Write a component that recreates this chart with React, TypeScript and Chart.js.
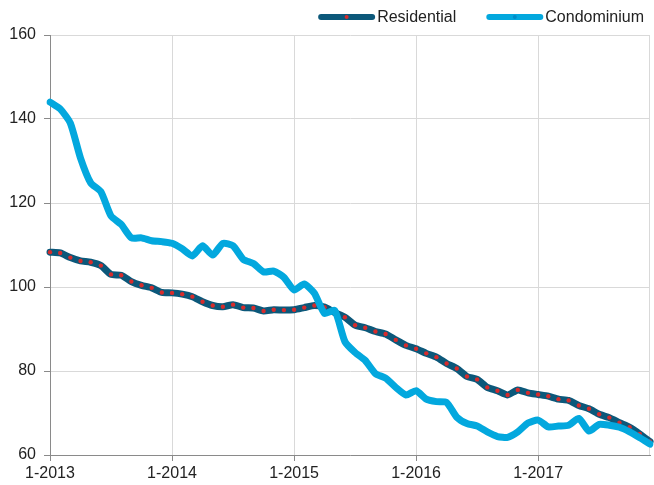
import React, { useEffect, useRef } from 'react';
import { Chart, registerables } from 'chart.js';

Chart.register(...registerables);

const YEARS = [2013, 2014, 2015, 2016, 2017];
const MONTHS = [1, 2, 3, 4, 5, 6, 7, 8, 9, 10, 11, 12];
const CATEGORIES = YEARS.flatMap((y) => MONTHS.map((m) => `${m}-${y}`));
const TICK_LABELS = ['1-2013', '1-2014', '1-2015', '1-2016', '1-2017'];
const SERIES_NAMES = ['Residential', 'Condominium'];

const RESIDENTIAL = [
  108.3, 108.1, 107.0, 106.2, 105.9, 105.1, 103.0, 102.8, 101.3, 100.4, 99.8, 98.7,
  98.6, 98.3, 97.7, 96.5, 95.6, 95.3, 95.8, 95.1, 95.0, 94.3, 94.6, 94.5,
  94.6, 95.1, 95.6, 95.2, 93.9, 92.8, 90.9, 90.3, 89.4, 88.8, 87.4, 86.1,
  85.3, 84.2, 83.3, 81.8, 80.6, 78.7, 78.0, 76.1, 75.3, 74.3, 75.5, 74.8,
  74.4, 74.0, 73.3, 73.0, 71.8, 71.0, 69.7, 68.9, 67.7, 66.6, 65.0, 63.2,
];

const CONDOMINIUM = [
  144.0, 142.4, 139.0, 130.7, 124.8, 122.7, 116.9, 114.9, 111.7, 111.7, 111.0, 110.8,
  110.4, 109.1, 107.4, 109.8, 107.6, 110.4, 109.8, 106.6, 105.6, 103.6, 103.8, 102.3,
  99.3, 100.7, 98.5, 93.7, 94.4, 87.0, 84.4, 82.5, 79.4, 78.3, 76.1, 74.3,
  75.3, 73.3, 72.7, 72.5, 69.0, 67.5, 66.9, 65.5, 64.4, 64.2, 65.5, 67.6,
  68.3, 66.7, 66.9, 67.1, 68.7, 65.7, 67.3, 67.1, 66.6, 65.5, 64.1, 62.6,
];

const Y_MIN = 60;
const Y_MAX = 160;
const Y_STEP = 20;

const RES_COLOR = 'rgb(12,88,122)';
const RES_DOT = 'rgb(214,44,44)';
const CONDO_COLOR = 'rgb(3,168,222)';
const CONDO_DOT = 'rgb(0,140,200)';
const GRID = '#d9d9d9';
const AXIS = '#8a8a8a';
const FONT = '"Liberation Sans", Arial, Helvetica, sans-serif';

const legendPlugin = {
  id: 'customLegend',
  afterDraw(chart: any) {
    const ctx = chart.ctx as CanvasRenderingContext2D;
    const items = [
      { text: SERIES_NAMES[0], color: RES_COLOR, dot: RES_DOT },
      { text: SERIES_NAMES[1], color: CONDO_COLOR, dot: CONDO_DOT },
    ];
    const lineLen = 54;
    const gap = 5;
    const itemGap = 30;
    const y = 17;
    ctx.save();
    ctx.font = `16px ${FONT}`;
    const widths = items.map((it) => lineLen + gap + ctx.measureText(it.text).width);
    const total = widths.reduce((a, b) => a + b, 0) + itemGap * (items.length - 1);
    let x = 644 - total;
    items.forEach((it, i) => {
      const x0 = x + 3;
      const x1 = x + lineLen;
      ctx.strokeStyle = it.color;
      ctx.lineWidth = 6;
      ctx.lineCap = 'round';
      ctx.beginPath();
      ctx.moveTo(x0, y);
      ctx.lineTo(x1, y);
      ctx.stroke();
      ctx.fillStyle = it.dot;
      ctx.beginPath();
      ctx.arc((x0 + x1) / 2, y, 2, 0, Math.PI * 2);
      ctx.fill();
      ctx.fillStyle = '#222';
      ctx.textBaseline = 'middle';
      ctx.textAlign = 'left';
      ctx.fillText(it.text, x + lineLen + gap, y + 1);
      x += widths[i] + itemGap;
    });
    ctx.restore();
  },
};

const rightBorderPlugin = {
  id: 'rightBorder',
  beforeDatasetsDraw(chart: any) {
    const { ctx, chartArea } = chart;
    ctx.save();
    ctx.strokeStyle = GRID;
    ctx.lineWidth = 1;
    ctx.beginPath();
    ctx.moveTo(chartArea.right - 0.5, chartArea.top);
    ctx.lineTo(chartArea.right - 0.5, chartArea.bottom);
    ctx.stroke();
    ctx.restore();
  },
};

export default function App() {
  const canvasRef = useRef<HTMLCanvasElement | null>(null);

  useEffect(() => {
    document.body.style.margin = '0';
    const canvas = canvasRef.current;
    if (!canvas) return;
    const chart = new Chart(canvas, {
      type: 'line',
      data: {
        labels: CATEGORIES,
        datasets: [
          {
            label: SERIES_NAMES[0],
            data: RESIDENTIAL,
            borderColor: RES_COLOR,
            backgroundColor: RES_DOT,
            borderWidth: 7,
            pointRadius: 2.2,
            pointBorderWidth: 0,
            pointBackgroundColor: RES_DOT,
            pointBorderColor: RES_DOT,
            tension: 0.2,
            borderJoinStyle: 'round',
            borderCapStyle: 'round',
            order: 2,
          },
          {
            label: SERIES_NAMES[1],
            data: CONDOMINIUM,
            borderColor: CONDO_COLOR,
            backgroundColor: CONDO_COLOR,
            borderWidth: 7,
            pointRadius: 0,
            tension: 0.2,
            borderJoinStyle: 'round',
            borderCapStyle: 'round',
            order: 1,
          },
        ],
      },
      options: {
        animation: false,
        responsive: true,
        maintainAspectRatio: false,
        layout: { padding: { top: 35, right: 1, left: 0, bottom: 0 } },
        plugins: {
          legend: { display: false },
          tooltip: { enabled: false },
        },
        scales: {
          x: {
            type: 'category',
            offset: false,
            afterFit: (scale: any) => {
              scale.height = 30;
            },
            grid: {
              color: GRID,
              tickColor: AXIS,
              tickLength: 6,
              drawOnChartArea: true,
            },
            border: { color: AXIS, width: 1 },
            ticks: {
              autoSkip: false,
              maxRotation: 0,
              padding: 3,
              color: '#222',
              font: { size: 16, family: FONT },
              callback: (_v: any, i: number) => {
                const lab = CATEGORIES[i];
                return TICK_LABELS.includes(lab) ? lab : null;
              },
            },
          },
          y: {
            min: Y_MIN,
            max: Y_MAX,
            afterFit: (scale: any) => {
              scale.width = 50;
            },
            grid: { color: GRID, tickColor: AXIS, tickLength: 6 },
            border: { color: AXIS, width: 1 },
            ticks: {
              stepSize: Y_STEP,
              padding: 8,
              color: '#222',
              font: { size: 16, family: FONT },
            },
          },
        },
      },
      plugins: [legendPlugin, rightBorderPlugin],
    });
    return () => chart.destroy();
  }, []);

  return (
    <div style={{ position: 'fixed', left: 0, top: 0, width: 654, height: 485 }}>
      <canvas ref={canvasRef} />
    </div>
  );
}
